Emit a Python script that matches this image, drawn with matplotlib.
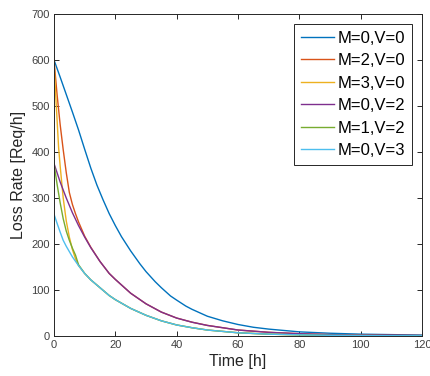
import matplotlib
matplotlib.use("Agg")
import matplotlib.pyplot as plt

plt.rcParams["font.family"] = ["Liberation Sans", "DejaVu Sans"]

# values (time in hours, loss rate in req/h)
t_blue = [0, 2, 4, 6, 8, 10, 12, 14, 16, 18, 20, 22, 25, 28, 30, 33, 35, 38, 40, 43, 45,
          50, 55, 60, 65, 70, 75, 80, 90, 100, 110, 120]
v_blue = [600, 563, 525, 487, 448, 406, 365, 328, 296, 266, 240, 216, 185, 157, 140, 118, 105, 87, 78, 65, 58,
          43, 33, 25, 19, 15, 12, 9, 6, 4, 3, 2]

t_orange = [0, 1, 2, 3, 4, 5, 6, 7, 8, 10, 12, 15, 18, 20, 25, 30, 35, 40, 45, 50, 60, 70, 80, 90, 100, 110, 120]
v_orange = [600, 525, 460, 405, 355, 312, 286, 266, 248, 217, 193, 162, 136, 123, 93, 70, 52, 39, 30, 23, 13, 8, 5, 3, 2, 1.5, 1]

t_yellow = [0, 0.5, 1, 1.5, 2, 2.5, 3, 4, 5, 6, 7, 8, 10, 12, 15, 18, 20, 25, 30, 35, 40, 45, 50, 60, 70, 80, 90, 100, 110, 120]
v_yellow = [600, 530, 470, 410, 370, 335, 300, 250, 215, 188, 168, 153, 136, 122, 105, 88, 79, 60, 45, 33, 24, 18, 13, 7, 4, 2.5, 1.5, 1, 0.6, 0.4]

t_purple = [0, 2, 4, 6, 8, 10, 12, 15, 18, 20, 25, 30, 35, 40, 45, 50, 60, 70, 80, 90, 100, 110, 120]
v_purple = [375, 335, 300, 268, 240, 215, 192, 162, 136, 123, 93, 70, 52, 39, 30, 23, 13, 8, 5, 3, 2, 1.5, 1]

t_green = [0, 1, 2, 3, 4, 5, 6, 7, 8, 10, 12, 15, 18, 20, 25, 30, 35, 40, 45, 50, 60, 70, 80, 90, 100, 110, 120]
v_green = [375, 330, 290, 255, 228, 208, 191, 176, 155, 136, 122, 105, 88, 79, 60, 45, 33, 24, 18, 13, 7, 4, 2.5, 1.5, 1, 0.6, 0.4]

t_cyan = [0, 1, 2, 3, 4, 6, 8, 10, 12, 15, 18, 20, 25, 30, 35, 40, 45, 50, 60, 70, 80, 90, 100, 110, 120]
v_cyan = [265, 245, 226, 208, 195, 172, 153, 136, 122, 105, 88, 79, 60, 45, 33, 24, 18, 13, 7, 4, 2.5, 1.5, 1, 0.6, 0.4]

series = [
    ("M=0,V=0", t_blue, v_blue, "#0072BD"),
    ("M=2,V=0", t_orange, v_orange, "#D95319"),
    ("M=3,V=0", t_yellow, v_yellow, "#EDB120"),
    ("M=0,V=2", t_purple, v_purple, "#7E2F8E"),
    ("M=1,V=2", t_green, v_green, "#77AC30"),
    ("M=0,V=3", t_cyan, v_cyan, "#4DBEEE"),
]

fig = plt.figure(figsize=(4.31, 3.76), dpi=100)
ax = fig.add_axes([54 / 431, 40 / 376, 368 / 431, 322 / 376])

for label, t, v, color in series:
    ax.plot(t, v, color=color, linewidth=1.0, label=label)

ax.set_xlim(0, 120)
ax.set_ylim(0, 700)
ax.set_xticks(range(0, 121, 20))
ax.set_yticks(range(0, 701, 100))

ax.tick_params(direction="in", length=3.5, width=0.7, top=True, right=True,
               labelsize=8, colors="#262626", labelcolor="#404040", pad=3)
for spine in ax.spines.values():
    spine.set_color("#262626")
    spine.set_linewidth(0.7)

ax.set_xlabel("Time [h]", fontsize=11.5, color="#262626", labelpad=3)
ax.set_ylabel("Loss Rate [Req/h]", fontsize=11.5, color="#262626", labelpad=4)

leg = ax.legend(loc="upper right", fontsize=12, frameon=True, fancybox=False,
                framealpha=1, edgecolor="#262626", borderaxespad=0.6,
                labelspacing=0.45, handlelength=2.0, handletextpad=0.2,
                borderpad=0.4)
leg.get_frame().set_linewidth(0.7)

fig.savefig("out.png", dpi=100, facecolor="white")
